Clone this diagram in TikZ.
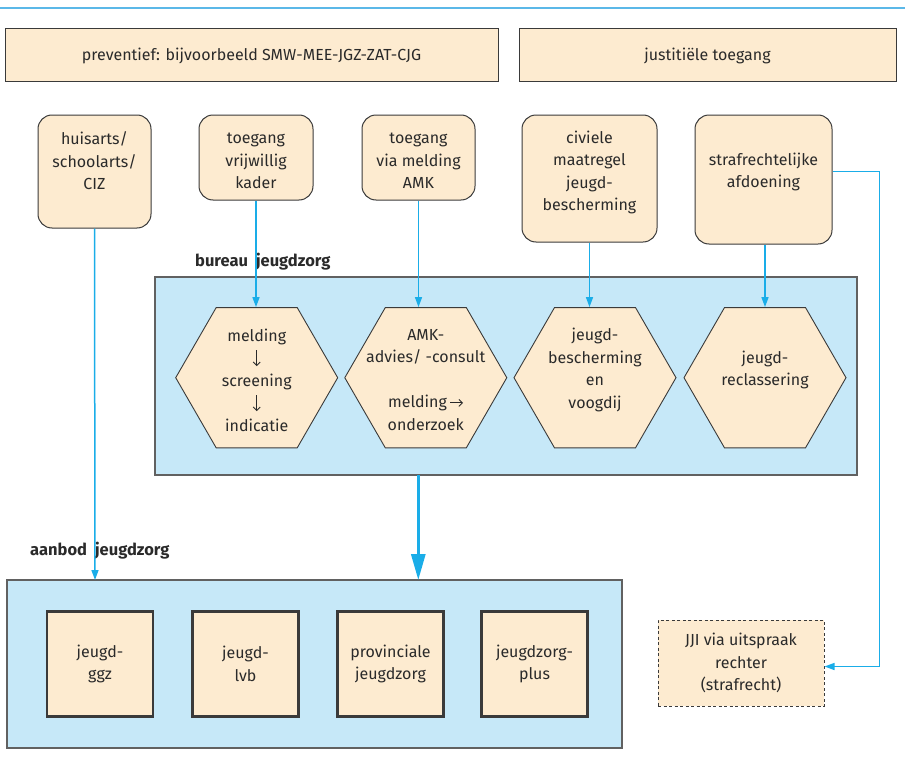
\documentclass[tikz,border=0pt]{standalone}
\usepackage{fontspec}
\setmainfont{Fira Sans}
\usetikzlibrary{arrows.meta,shapes.geometric}
\definecolor{cream}{HTML}{FDEBD0}
\definecolor{lblue}{HTML}{C6E8F8}
\definecolor{cy}{HTML}{1AADE8}
\definecolor{edgec}{HTML}{3A3A3A}
\definecolor{txtc}{HTML}{2A2A2A}
\definecolor{topc}{HTML}{5BB8E8}
\newcommand{\dnarr}{\tikz[baseline=0pt]\draw[line width=0.9pt, txtc, -{Straight Barb[length=3.5pt,width=7pt]}] (0pt,14pt) -- (0pt,-2pt);}
\newcommand{\rtarr}{\,\tikz[baseline=0pt]\draw[line width=0.9pt, txtc, -{Straight Barb[length=3.5pt,width=7pt]}] (0pt,5pt) -- (13pt,5pt);}
\begin{document}
\begin{tikzpicture}[x=1pt,y=-1pt,
  every node/.style={font=\fontsize{16}{22.5}\selectfont, text=txtc, align=center, inner sep=0pt},
  topbox/.style={draw=edgec, line width=1pt, fill=cream, minimum height=53pt},
  rbox/.style={draw=edgec, line width=1pt, fill=cream, rounded corners=14pt},
  hexs/.style={regular polygon, regular polygon sides=6, draw=edgec, line width=0.9pt, fill=cream, minimum size=162pt},
  group/.style={draw=edgec!80, line width=1.2pt, fill=lblue},
  ibox/.style={draw=edgec, line width=2.4pt, fill=cream, minimum width=106pt, minimum height=105pt},
  dbox/.style={draw=edgec, line width=1pt, dashed, dash pattern=on 3pt off 2.5pt, fill=cream, minimum width=166pt, minimum height=86pt},
  lab/.style={font=\fontsize{16.5}{18}\bfseries\selectfont, text=txtc},
  arr/.style={draw=cy, line width=1.5pt, -{Triangle[length=10pt,width=7pt]}},
  bigarr/.style={draw=cy, line width=3pt, -{Triangle[length=26pt,width=14pt]}}
]
\useasboundingbox (0,0) rectangle (905,768);
\draw[topc, line width=2pt] (0,8) -- (905,8);

% top boxes
\node[topbox, minimum width=493pt] (prev) at (251.5,55.5) {preventief: bijvoorbeeld SMW-MEE-JGZ-ZAT-CJG};
\node[topbox, minimum width=377pt] (just) at (707.5,55.5) {justitiële toegang};

% row of rounded boxes
\node[rbox, minimum width=113pt, minimum height=113pt] (huis) at (94.5,171.5) {};
\node[rbox, minimum width=114pt, minimum height=85pt] (vrij) at (256,157.5) {};
\node[rbox, minimum width=113pt, minimum height=85pt] (amk) at (418.5,157.5) {};
\node[rbox, minimum width=135pt, minimum height=127pt] (civ) at (589.5,178.5) {};
\node[rbox, minimum width=137pt, minimum height=129pt] (straf) at (763.5,179.5) {};

\node (huist) at (94.5,161) {huisarts/\\schoolarts/\\CIZ};
\node (vrijt) at (256,161) {toegang\\vrijwillig\\kader};
\node (amkt) at (418.5,161) {toegang\\via melding\\AMK};
\node (civt) at (589.5,172.5) {civiele\\maatregel\\jeugd-\\bescherming};
\node (straft) at (763.5,172) {strafrechtelijke\\afdoening};

% bureau jeugdzorg
\node[lab, anchor=base west] (lbur) at (195,266) {bureau\hspace{8pt}jeugdzorg};
\draw[group] (155,277) rectangle (857,475);
\coordinate (burS) at (418.3,475);

\node[hexs] (hx1) at (256.7,377.7) {};
\node[hexs] (hx2) at (425.8,377.7) {};
\node[hexs] (hx3) at (595,377.7) {};
\node[hexs] (hx4) at (765,377.7) {};

\node (hx1t) at (256.7,380.5) {melding\\\dnarr\\screening\\\dnarr\\indicatie};
\node (hx2t) at (425.8,380) {AMK-\\advies/ -consult\\[22.5pt]melding\rtarr\\onderzoek};
\node (hx3t) at (595,370) {jeugd-\\bescherming\\en\\voogdij};
\node (hx4t) at (765,370) {jeugd-\\reclassering};

% aanbod jeugdzorg
\node[lab, anchor=base west] (laan) at (30,555) {aanbod\hspace{8pt}jeugdzorg};
\draw[group] (7,580) rectangle (622,748);
\coordinate (aanN) at (418.3,580);
\coordinate (aanNh) at (95,580);

\node[ibox] (ggz) at (100,664) {jeugd-\\ggz};
\node[ibox] (lvb) at (245.5,664) {jeugd-\\lvb};
\node[ibox] (prov) at (390.5,664) {provinciale\\jeugdzorg};
\node[ibox] (plus) at (534.5,664) {jeugdzorg-\\plus};

\node[dbox] (jji) at (741,663) {JJI via uitspraak\\rechter\\(strafrecht)};

% connectors
\draw[arr] (huis.south) -- (aanNh);
\draw[arr] (vrij.south) -- (vrij.south |- hx1.north);
\draw[arr] (amk.south) -- (amk.south |- hx2.north);
\draw[arr] (civ.south) -- (civ.south |- hx3.north);
\draw[arr] (straf.south -| hx4) -- (hx4.north);
\draw[bigarr] (burS) -- (aanN);
\draw[arr] ([yshift=7.8pt]straf.east) -- ++(47,0) |- ([yshift=-3.5pt]jji.east);
\end{tikzpicture}
\end{document}
